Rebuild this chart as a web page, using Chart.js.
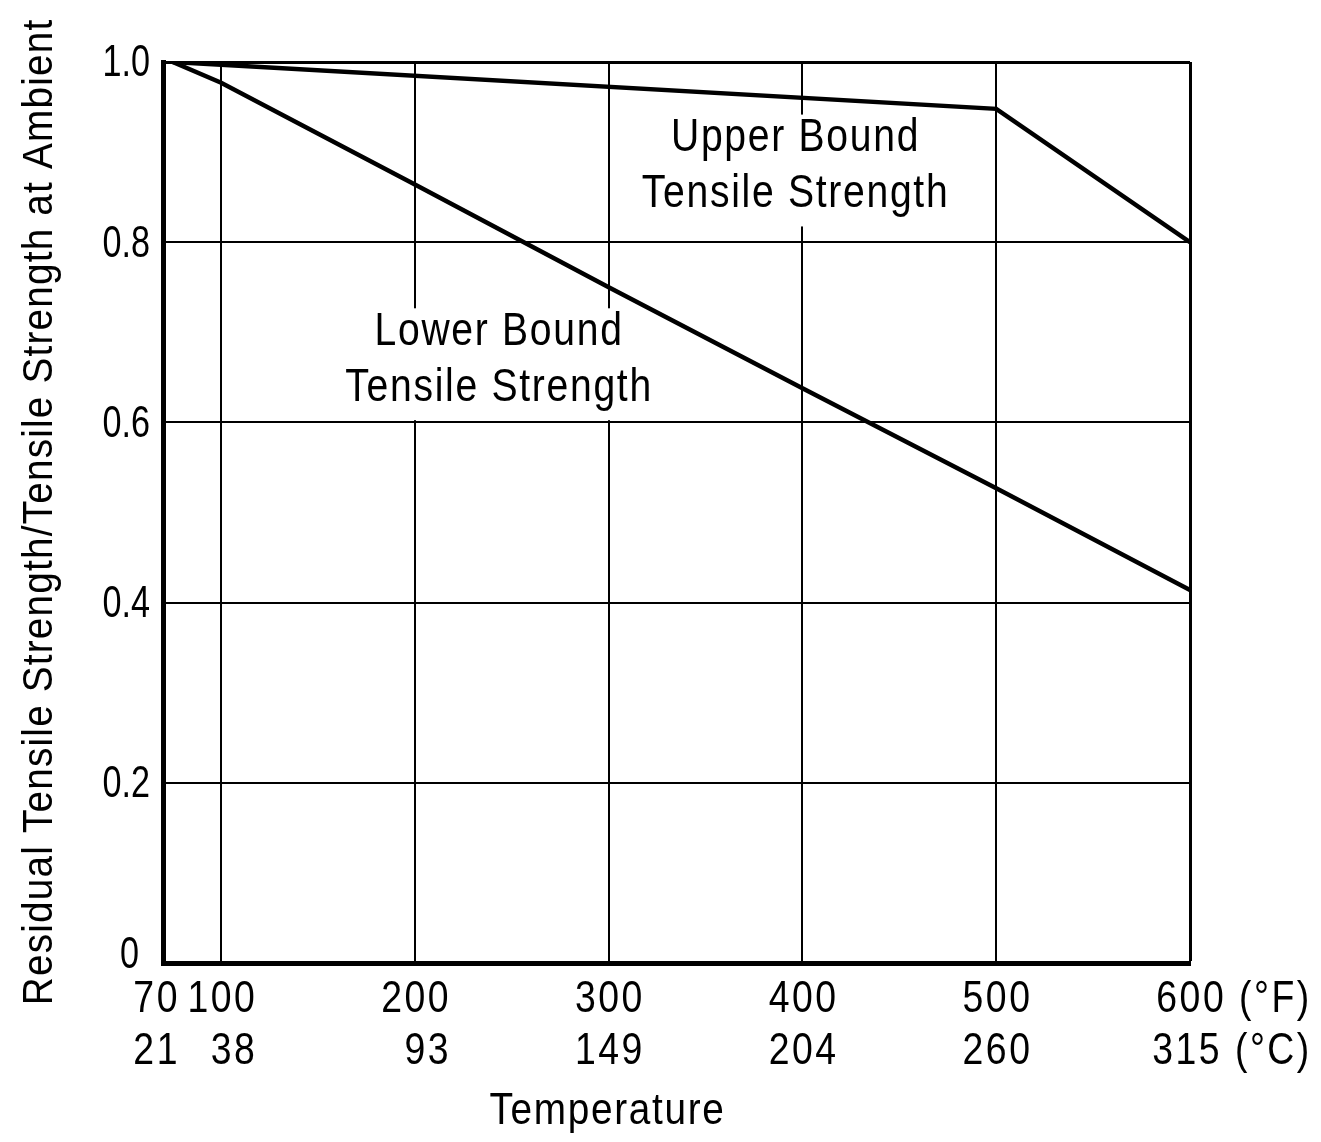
<!DOCTYPE html>
<html>
<head>
<meta charset="utf-8">
<script src="https://cdn.jsdelivr.net/npm/chart.js@4.4.1/dist/chart.umd.min.js"></script>
<style>
  html, body { margin: 0; padding: 0; background: #fff; }
  #wrap { width: 1321px; height: 1142px; }
</style>
</head>
<body>
<div id="wrap"><canvas id="chart" width="1321" height="1142"></canvas></div>
<script>
// Temperature ticks (°F) with their Celsius equivalents
const tempTicksF = [70, 100, 200, 300, 400, 500, 600];
const tickLabelsF = ['70', '100', '200', '300', '400', '500', '600'];
const tickLabelsC = ['21', '38', '93', '149', '204', '260', '315'];
const unitF = ' (°F)';
const unitC = ' (°C)';

// Strength ratio ticks
const ratioTicks = [0, 0.2, 0.4, 0.6, 0.8, 1.0];
const ratioLabels = ['0', '0.2', '0.4', '0.6', '0.8', '1.0'];

// Upper bound curve
const upperTemp = [75, 500, 600];
const upperRatio = [1.0, 0.948, 0.80];

// Lower bound curve
const lowerTemp = [75, 100, 200, 300, 400, 500, 600];
const lowerRatio = [1.0, 0.977, 0.864, 0.750, 0.638, 0.527, 0.414];

// Curve captions and axis titles
const upperCaption = ['Upper Bound', 'Tensile Strength'];
const lowerCaption = ['Lower Bound', 'Tensile Strength'];
const xTitle = 'Temperature';
const yTitle = 'Residual Tensile Strength/Tensile Strength at Ambient';

const FONT = '"Liberation Sans", Arial, Helvetica, sans-serif';

// condensed lettering: size, horizontal squeeze, extra tracking (px)
const STYLE = {
  tick:    { size: 44, sx: 0.85, track: 2.5 },
  ytick:   { size: 45, sx: 0.76, track: 0 },
  caption: { size: 46, sx: 0.85, track: 1.7 },
  xtitle:  { size: 44, sx: 0.88, track: 1.7 },
  ytitle:  { size: 43, sx: 0.90, track: 1.2 }
};

// caption anchors in data coordinates (°F, ratio per line)
const captions = [
  { lines: upperCaption, x: 396, y: [0.915, 0.853] },
  { lines: lowerCaption, x: 243, y: [0.700, 0.638] }
];

const toPoints = (xs, ys) => xs.map((v, i) => ({ x: v, y: ys[i] }));

function textWidth(ctx, text, st) {
  ctx.save();
  ctx.font = `${st.size}px ${FONT}`;
  ctx.letterSpacing = '0px';
  const w = ctx.measureText(text).width;
  ctx.restore();
  return (w + st.track / st.sx * (text.length - 1)) * st.sx;
}

// draws text with its left edge at x, vertically centred on y
function drawText(ctx, text, x, y, st) {
  ctx.save();
  ctx.translate(x, y);
  ctx.scale(st.sx, 1);
  ctx.font = `${st.size}px ${FONT}`;
  ctx.letterSpacing = `${st.track / st.sx}px`;
  ctx.textAlign = 'left';
  ctx.textBaseline = 'middle';
  ctx.fillStyle = '#000';
  ctx.fillText(text, 0, 0);
  ctx.restore();
}

const decor = {
  id: 'decor',
  beforeDatasetsDraw(chart) {
    const { ctx, scales: { x, y } } = chart;
    const st = STYLE.caption;
    captions.forEach(c => {
      const cx = x.getPixelForValue(c.x);
      const ys = c.y.map(v => y.getPixelForValue(v));
      const widths = c.lines.map(t => textWidth(ctx, t, st));
      const w = Math.max(...widths);
      const top = ys[0] - 24;
      const bottom = ys[ys.length - 1] + 32;
      ctx.save();
      ctx.fillStyle = '#fff';
      ctx.fillRect(cx - w / 2 - 8, top, w + 16, bottom - top);
      ctx.restore();
      c.lines.forEach((t, i) => drawText(ctx, t, cx - widths[i] / 2, ys[i], st));
    });
  },
  afterDraw(chart) {
    const { ctx, chartArea, scales: { x, y } } = chart;

    // ratio tick labels, right-aligned beside the axis; the origin label sits
    // a little higher and further out so it clears the temperature labels
    ratioTicks.forEach((v, i) => {
      const w = textWidth(ctx, ratioLabels[i], STYLE.ytick);
      const origin = v === 0;
      const gap = origin ? 24 : 13;
      const dy = origin ? -7 : 2;
      drawText(ctx, ratioLabels[i], chartArea.left - gap - w, y.getPixelForValue(v) + dy, STYLE.ytick);
    });

    // two-row temperature tick labels, each pair right-aligned
    const st = STYLE.tick;
    const rowF = chartArea.bottom + 37;
    const rowC = chartArea.bottom + 89;
    const n = tempTicksF.length;
    tempTicksF.forEach((v, i) => {
      const px = x.getPixelForValue(v);
      const last = i === n - 1;
      const fText = tickLabelsF[i] + (last ? unitF : '');
      const cText = tickLabelsC[i] + (last ? unitC : '');
      const left = px - textWidth(ctx, tickLabelsF[i], st) / 2;
      let right = left + textWidth(ctx, fText, st);
      if (i === 0) {
        // keep the first pair clear of its neighbour
        const nextPx = x.getPixelForValue(tempTicksF[1]);
        const nextLeft = nextPx - textWidth(ctx, tickLabelsF[1], st) / 2;
        right = Math.min(right, nextLeft - 10);
      }
      drawText(ctx, fText, right - textWidth(ctx, fText, st), rowF, st);
      drawText(ctx, cText, right - textWidth(ctx, cText, st), rowC, st);
    });

    // axis titles
    const tx = chartArea.left + 0.432 * (chartArea.right - chartArea.left);
    drawText(ctx, xTitle, tx - textWidth(ctx, xTitle, STYLE.xtitle) / 2, chartArea.bottom + 149, STYLE.xtitle);

    ctx.save();
    ctx.translate(40, (chartArea.top + chartArea.bottom) / 2);
    ctx.rotate(-Math.PI / 2);
    drawText(ctx, yTitle, -textWidth(ctx, yTitle, STYLE.ytitle) / 2, 0, STYLE.ytitle);
    ctx.restore();
  }
};

new Chart(document.getElementById('chart'), {
  type: 'line',
  data: {
    datasets: [
      {
        label: 'Upper Bound Tensile Strength',
        data: toPoints(upperTemp, upperRatio),
        borderColor: '#000',
        borderWidth: 4.5,
        pointRadius: 0,
        tension: 0,
        fill: false
      },
      {
        label: 'Lower Bound Tensile Strength',
        data: toPoints(lowerTemp, lowerRatio),
        borderColor: '#000',
        borderWidth: 4.5,
        pointRadius: 0,
        tension: 0,
        fill: false
      }
    ]
  },
  options: {
    responsive: false,
    devicePixelRatio: 1,
    animation: false,
    layout: { padding: { top: 62, right: 131, bottom: 0, left: 0 } },
    plugins: {
      legend: { display: false },
      tooltip: { enabled: false }
    },
    scales: {
      x: {
        type: 'linear',
        min: 70,
        max: 600,
        afterBuildTicks: s => { s.ticks = tempTicksF.map(v => ({ value: v })); },
        afterFit: s => { s.height = 179; },
        ticks: { display: false },
        grid: {
          color: '#000',
          lineWidth: c => (c.tick && c.tick.value === 600 ? 3 : 2),
          drawTicks: false
        },
        border: { display: true, color: '#000', width: 5 }
      },
      y: {
        type: 'linear',
        min: 0,
        max: 1,
        afterBuildTicks: s => { s.ticks = ratioTicks.map(v => ({ value: v })); },
        afterFit: s => { s.width = 163; },
        ticks: { display: false },
        grid: {
          color: '#000',
          lineWidth: c => (c.tick && c.tick.value === 1 ? 3 : 2),
          drawTicks: false
        },
        border: { display: true, color: '#000', width: 5 },
        title: { display: false }
      }
    }
  },
  plugins: [decor]
});
</script>
</body>
</html>
